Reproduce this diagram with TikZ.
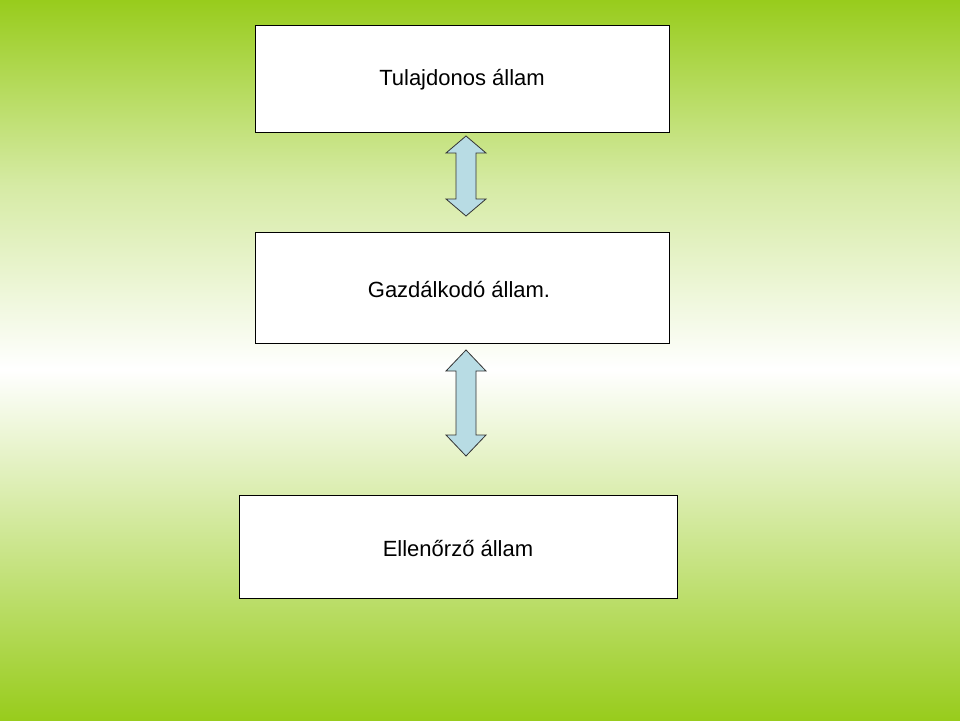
\documentclass[tikz,border=0pt]{standalone}
\usepackage{fontspec}
\setmainfont{Liberation Sans}
\definecolor{bggreen}{RGB}{152,204,28}
\definecolor{arrowfill}{RGB}{184,220,228}
\begin{document}
\begin{tikzpicture}[x=1pt,y=-1pt,
  box/.style={draw=black,fill=white,line width=0.8pt,inner sep=0pt},
  dblarrow/.style={draw=black!80,fill=arrowfill,line width=0.8pt,line join=miter}]
\useasboundingbox (0,0) rectangle (960,720);
\shade[top color=bggreen,bottom color=white,middle color=white!60!bggreen] (0,0) rectangle (960,370);
\shade[top color=white,bottom color=bggreen] (0,370) rectangle (960,720);
\node[box,minimum width=414pt,minimum height=107pt] (t) at (462,78.5) {};
\node[font=\fontsize{22}{26}\selectfont] (tl) at (462,80) {Tulajdonos állam};
\node[box,minimum width=414pt,minimum height=111pt] (g) at (462,287.5) {};
\node[font=\fontsize{22}{26}\selectfont] (gl) at (459,290) {Gazdálkodó állam.};
\node[box,minimum width=438pt,minimum height=103pt] (e) at (458,546.5) {};
\node[font=\fontsize{22}{26}\selectfont] (el) at (458,548) {Ellenőrző állam};
\draw[dblarrow] (466,136) -- (486,153) -- (476,153) -- (476,199) -- (486,199) -- (466,216) -- (446,199) -- (456,199) -- (456,153) -- (446,153) -- cycle;
\draw[dblarrow] (466,350) -- (486,371) -- (476,371) -- (476,435) -- (486,435) -- (466,456) -- (446,435) -- (456,435) -- (456,371) -- (446,371) -- cycle;
\end{tikzpicture}
\end{document}
